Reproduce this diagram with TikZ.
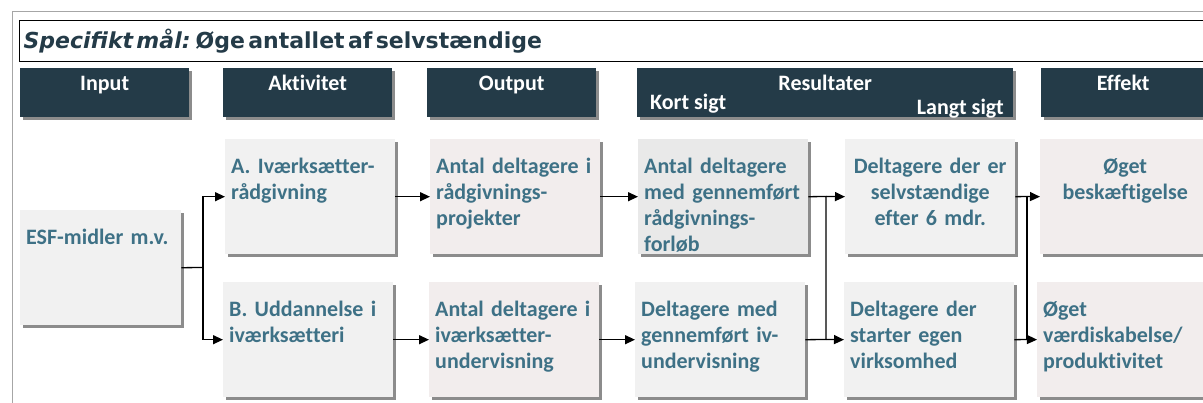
\documentclass[tikz,border=0pt]{standalone}
\usepackage{fontspec}
\setmainfont{Carlito}[Ligatures=NoCommon]
\newfontfamily\titlefont{DejaVu Sans}
\usetikzlibrary{arrows.meta, shadows}
\definecolor{hdrcolor}{RGB}{36,59,72}
\definecolor{txtcolor}{RGB}{62,113,134}
\definecolor{cellcolor}{RGB}{241,241,241}
\definecolor{rescolor}{RGB}{233,233,233}
\definecolor{pinkcolor}{RGB}{242,237,237}
\definecolor{shadecolor}{RGB}{140,140,140}
\definecolor{framecolor}{RGB}{166,166,166}

\tikzset{
  boxshadow/.style={drop shadow={shadow xshift=3pt, shadow yshift=-3pt, fill=shadecolor, opacity=1}},
  goalbox/.style={anchor=north west, draw, line width=1.2pt, fill=white, inner xsep=4pt, inner ysep=0pt, text width=1185pt, align=left, text height=28pt, text depth=13pt, text=hdrcolor},
  hdr/.style={anchor=north west, fill=hdrcolor, text=white, font=\fontsize{22}{26}\selectfont\bfseries, inner sep=0pt, text height=22pt, text depth=27pt, boxshadow},
  subhdr/.style={text=white, font=\fontsize{22}{26}\selectfont\bfseries, inner sep=0pt},
  cell/.style={anchor=north west, fill=cellcolor, text=txtcolor, font=\fontsize{22}{26}\selectfont\bfseries, inner xsep=6pt, inner ysep=0pt, text width=158pt, text height=34pt, text depth=81pt, align=left, boxshadow},
  link/.style={line width=1.3pt},
  arr/.style={link, -{Triangle[length=10pt,width=9pt]}},
}

\begin{document}
\begin{tikzpicture}[x=1pt, y=-1pt]
  \useasboundingbox (0,0) rectangle (1203,403);
  \draw[framecolor, line width=1pt] (12,403) -- (12,12) -- (1203,12);

  \node[goalbox] (goal) at (19,20) {\titlefont\fontsize{22}{26}\selectfont\bfseries{\itshape Specifikt mål:} Øge antallet af selvstændige};

  % column headers
  \node[hdr, minimum width=169pt] (hin) at (20,68) {Input};
  \node[hdr, minimum width=169pt] (hakt) at (223,68) {Aktivitet};
  \node[hdr, minimum width=169pt] (hout) at (427,68) {Output};
  \node[hdr, minimum width=376pt] (hres) at (637,68) {Resultater};
  \node[hdr, minimum width=164pt] (heff) at (1041,68) {Effekt};
  \node[subhdr, anchor=base west] (kort) at (650,110) {Kort sigt};
  \node[subhdr, anchor=base east] (langt) at (1004,115) {Langt sigt};

  % boxes
  \node[cell, text width=149pt] (esf) at (20,210) {ESF-midler m.v.};
  \node[cell] (akt-a) at (225,139) {A. Iværksætter-\\rådgivning};
  \node[cell] (akt-b) at (223,282) {B. Uddannelse i\\iværksætteri};
  \node[cell, fill=pinkcolor] (out-a) at (430,139) {Antal deltagere i\\rådgivnings-\\projekter};
  \node[cell, fill=pinkcolor] (out-b) at (429,282) {Antal deltagere i\\iværksætter-\\undervisning};
  \node[cell, fill=rescolor] (res-a) at (638,139) {Antal deltagere\\med gennemført\\rådgivnings-\\forløb};
  \node[cell] (res-b) at (635,282) {Deltagere med\\gennemført iv-\\undervisning};
  \node[cell, align=center] (self) at (845,139) {Deltagere der er\\selvstændige\\efter 6 mdr.};
  \node[cell] (start) at (844,282) {Deltagere der\\starter egen\\virksomhed};
  \node[cell, fill=pinkcolor, align=center] (eff-a) at (1040,139) {Øget\\beskæftigelse};
  \node[cell, fill=pinkcolor, text width=166pt] (eff-b) at (1037,282) {Øget\\værdiskabelse/\\produktivitet};

  % connectors
  \coordinate (split) at (203,267.5);
  \draw[link] (esf.east) -- (split);
  \draw[arr] (split) |- (akt-a.west);
  \draw[arr] (split) |- (akt-b.west);
  \draw[arr] (akt-a.east) -- (out-a.west);
  \draw[arr] (akt-b.east) -- (out-b.west);
  \draw[arr] (out-a.east) -- (res-a.west);
  \draw[arr] (out-b.east) -- (res-b.west);

  \coordinate (merge-a) at (826,196.5);
  \coordinate (merge-b) at (826,339.5);
  \draw[link] (res-a.east) -- (merge-a) -- (merge-b);
  \draw[link] (res-b.east) -- (merge-b);
  \draw[arr] (merge-a) -- (self.west);
  \draw[arr] (merge-b) -- (start.west);

  \coordinate (join-a) at (1027,196.5);
  \coordinate (join-b) at (1027,339.5);
  \draw[link] (self.east) -- (join-a);
  \draw[link] (start.east) -- (join-b);
  \draw[link, line width=2pt] (join-a) -- (join-b);
  \draw[arr] (join-a) -- (eff-a.west);
  \draw[arr] (join-b) -- (eff-b.west);
\end{tikzpicture}
\end{document}
